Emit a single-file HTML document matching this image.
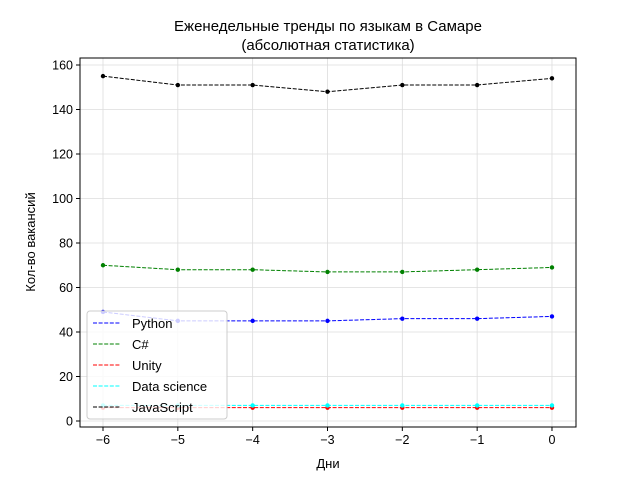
<!DOCTYPE html>
<html><head><meta charset="utf-8"><style>body{margin:0;background:#fff}svg{display:block;font-family:"Liberation Sans","DejaVu Sans",sans-serif}</style></head>
<body>
<svg id="c" width="640" height="480"></svg>
<script>
const days=[-6,-5,-4,-3,-2,-1,0];
const python=[49,45,45,45,46,46,47];
const csharp=[70,68,68,67,67,68,69];
const unity=[6,6,6,6,6,6,6];
const dataScience=[7,7,7,7,7,7,7];
const javascript=[155,151,151,148,151,151,154];
const xTicks=[-6,-5,-4,-3,-2,-1,0];
const yTicks=[0,20,40,60,80,100,120,140,160];
const seriesNames=["Python","C#","Unity","Data science","JavaScript"];
const seriesColors=["#0000ff","#008000","#ff0000","#00ffff","#000000"];
const seriesData=[python,csharp,unity,dataScience,javascript];
const L=80,R=576,T=58,B=427;
const xs=v=>103+(v+6)*74.83;
const ys=v=>421-v*2.225;
const svg=document.getElementById('c');
const NS="http://www.w3.org/2000/svg";
function mk(t,a,p){const e=document.createElementNS(NS,t);for(const k in a)e.setAttribute(k,a[k]);(p||svg).appendChild(e);return e;}
// grid
xTicks.forEach(v=>{const g=mk('line',{x1:xs(v),x2:xs(v),y1:T,y2:B,stroke:'#dcdcdc','stroke-width':0.8});

});
yTicks.forEach(v=>{const g=mk('line',{x1:L,x2:R,y1:ys(v),y2:ys(v),stroke:'#dcdcdc','stroke-width':0.8});

});
// series
seriesData.forEach((d,i)=>{
const pts=d.map((v,j)=>xs(days[j])+','+ys(v)).join(' ');
const pl=mk('polyline',{points:pts,fill:'none',stroke:seriesColors[i],'stroke-width':1,'stroke-dasharray':'4,1.6'});


d.forEach((v,j)=>{const c=mk('circle',{cx:xs(days[j]),cy:ys(v),r:2.2,fill:seriesColors[i]});

});
});
// axes frame
const fr=mk('rect',{x:L,y:T,width:R-L,height:B-T,fill:'none',stroke:'#000','stroke-width':1});


xTicks.forEach(v=>{mk('line',{x1:xs(v),x2:xs(v),y1:B,y2:B+4,stroke:'#000'});
const t=mk('text',{x:xs(v),y:B+17,'text-anchor':'middle','font-size':12.5});t.textContent=(v<0?'\u2212'+(-v):v);

});
yTicks.forEach(v=>{mk('line',{x1:L-4,x2:L,y1:ys(v),y2:ys(v),stroke:'#000'});
const t=mk('text',{x:L-7,y:ys(v)+4.5,'text-anchor':'end','font-size':12.5});t.textContent=v;

});
// titles
const t1=mk('text',{x:328,y:31,'text-anchor':'middle','font-size':15});t1.textContent='Еженедельные тренды по языкам в Самаре';


const t2=mk('text',{x:328,y:50,'text-anchor':'middle','font-size':15});t2.textContent='(абсолютная статистика)';


const xl=mk('text',{x:328,y:468,'text-anchor':'middle','font-size':13});xl.textContent='Дни';


const yl=mk('text',{x:35,y:242,'text-anchor':'middle','font-size':13,transform:'rotate(-90 35 242)'});yl.textContent='Кол-во вакансий';


// legend
const lg=mk('g',{});


mk('rect',{x:87,y:311,width:140,height:108,rx:3,fill:'#fff','fill-opacity':0.8,stroke:'#ccc'},lg);
seriesNames.forEach((n,i)=>{const y=323+i*21;
const e=mk('g',{},lg);


mk('line',{x1:93,x2:121,y1:y,y2:y,stroke:seriesColors[i],'stroke-dasharray':'4,1.6'},e);
const t=mk('text',{x:132,y:y+5,'font-size':13},e);t.textContent=n;});
</script>
</body></html>
